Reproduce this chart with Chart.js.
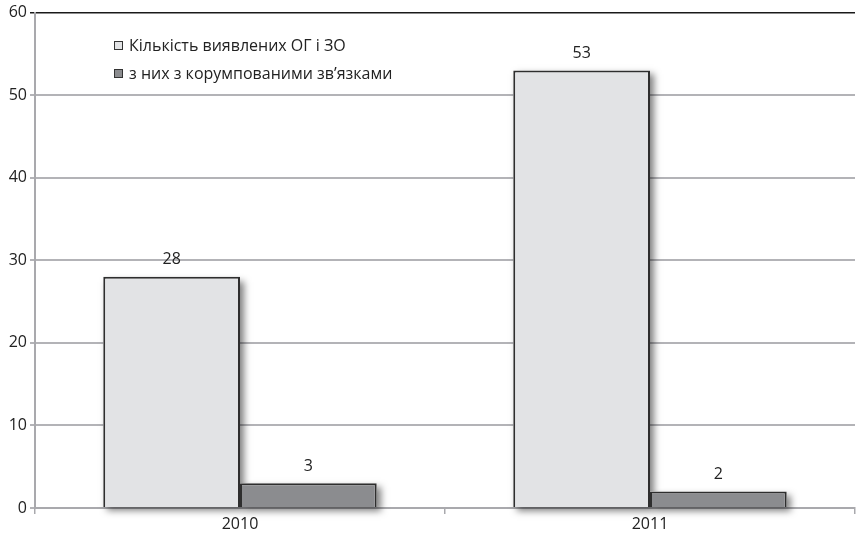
<!DOCTYPE html>
<html>
<head>
<meta charset="utf-8">
<script src="https://cdn.jsdelivr.net/npm/chart.js@4.4.1/dist/chart.umd.min.js"></script>
<style>
  html, body { margin: 0; padding: 0; background: #ffffff; }
  #wrap { width: 859px; height: 536px; }
</style>
</head>
<body>
<div id="wrap"><canvas id="chart" width="859" height="536"></canvas></div>
<script>
// Years on the category axis
const years = ['2010', '2011'];
// Number of detected organised groups and criminal organisations
const detectedGroups = [28, 53];
// Of them, with corruption ties
const corruptTies = [3, 2];
// Value axis ticks
const yTicks = [0, 10, 20, 30, 40, 50, 60];

const seriesNames = ['Кількість виявлених ОГ і ЗО', 'з них з корумпованими зв’язками'];
const FONT = 'Open Sans';

// Soft drop shadow painted under every bar before the bars themselves
const barShadow = {
  id: 'barShadow',
  beforeDatasetsDraw(chart) {
    const ctx = chart.ctx;
    ctx.save();
    ctx.shadowColor = 'rgba(0,0,0,0.5)';
    ctx.shadowBlur = 7;
    ctx.shadowOffsetX = 4;
    ctx.shadowOffsetY = 4;
    ctx.fillStyle = '#ffffff';
    chart.data.datasets.forEach((ds, i) => {
      chart.getDatasetMeta(i).data.forEach(bar => {
        const p = bar.getProps(['x', 'y', 'base', 'width'], true);
        ctx.fillRect(p.x - p.width / 2, p.y, p.width, p.base - p.y);
      });
    });
    ctx.restore();
  }
};

// Value labels above each bar
const valueLabels = {
  id: 'valueLabels',
  afterDatasetsDraw(chart) {
    const ctx = chart.ctx;
    ctx.save();
    ctx.font = '16px "' + FONT + '"';
    ctx.fillStyle = '#222';
    ctx.textAlign = 'center';
    ctx.textBaseline = 'middle';
    chart.data.datasets.forEach((ds, i) => {
      chart.getDatasetMeta(i).data.forEach((bar, j) => {
        ctx.fillText(String(ds.data[j]), bar.x, bar.y - 17);
      });
    });
    ctx.restore();
  }
};

// Legend drawn inside the plot area, upper left
const innerLegend = {
  id: 'innerLegend',
  afterDraw(chart) {
    const ctx = chart.ctx;
    ctx.save();
    ctx.font = '16px "' + FONT + '"';
    ctx.textBaseline = 'middle';
    chart.data.datasets.forEach((ds, i) => {
      const y = 46 + i * 28;
      ctx.fillStyle = ds.backgroundColor;
      ctx.fillRect(114, y - 4, 8, 8);
      ctx.strokeStyle = '#333';
      ctx.lineWidth = 1;
      ctx.strokeRect(114.5, y - 4.5, 8, 8);
      ctx.fillStyle = '#222';
      ctx.textAlign = 'left';
      ctx.fillText(ds.label, 129, y);
    });
    ctx.restore();
  }
};

new Chart(document.getElementById('chart'), {
  type: 'bar',
  data: {
    labels: years,
    datasets: [
      {
        label: seriesNames[0],
        data: detectedGroups,
        backgroundColor: '#e2e3e5',
        borderColor: '#2e2e2e',
        borderWidth: 2,
        borderSkipped: 'bottom'
      },
      {
        label: seriesNames[1],
        data: corruptTies,
        backgroundColor: '#8b8c8f',
        borderColor: '#2e2e2e',
        borderWidth: 2,
        borderSkipped: 'bottom'
      }
    ]
  },
  options: {
    responsive: false,
    animation: false,
    devicePixelRatio: 1,
    layout: { padding: { top: 12, right: 4, left: 0, bottom: 0 } },
    datasets: {
      bar: { categoryPercentage: 0.667, barPercentage: 1.0 }
    },
    plugins: {
      legend: { display: false },
      tooltip: { enabled: false }
    },
    scales: {
      x: {
        offset: true,
        grid: {
          offset: true,
          drawOnChartArea: false,
          drawTicks: true,
          tickLength: 6,
          color: '#a9a9ad',
          lineWidth: 1.5
        },
        border: { display: true, color: '#a9a9ad', width: 2 },
        ticks: {
          color: '#222',
          font: { family: FONT, size: 16 },
          padding: 1
        },
        afterFit(scale) { scale.height = 28; }
      },
      y: {
        min: 0,
        max: 60,
        afterBuildTicks(scale) { scale.ticks = yTicks.map(v => ({ value: v })); },
        grid: {
          color: ctx => (ctx.tick && ctx.tick.value === 60 ? '#1a1a1a' : '#b3b3b7'),
          lineWidth: ctx => (ctx.tick && ctx.tick.value === 60 ? 1.5 : 2),
          drawTicks: true,
          tickLength: 5
        },
        border: { display: true, color: '#a9a9ad', width: 2 },
        ticks: {
          color: '#222',
          font: { family: FONT, size: 16 },
          padding: 3
        },
        afterFit(scale) { scale.width = 35; }
      }
    }
  },
  plugins: [barShadow, valueLabels, innerLegend]
});
</script>
</body>
</html>
